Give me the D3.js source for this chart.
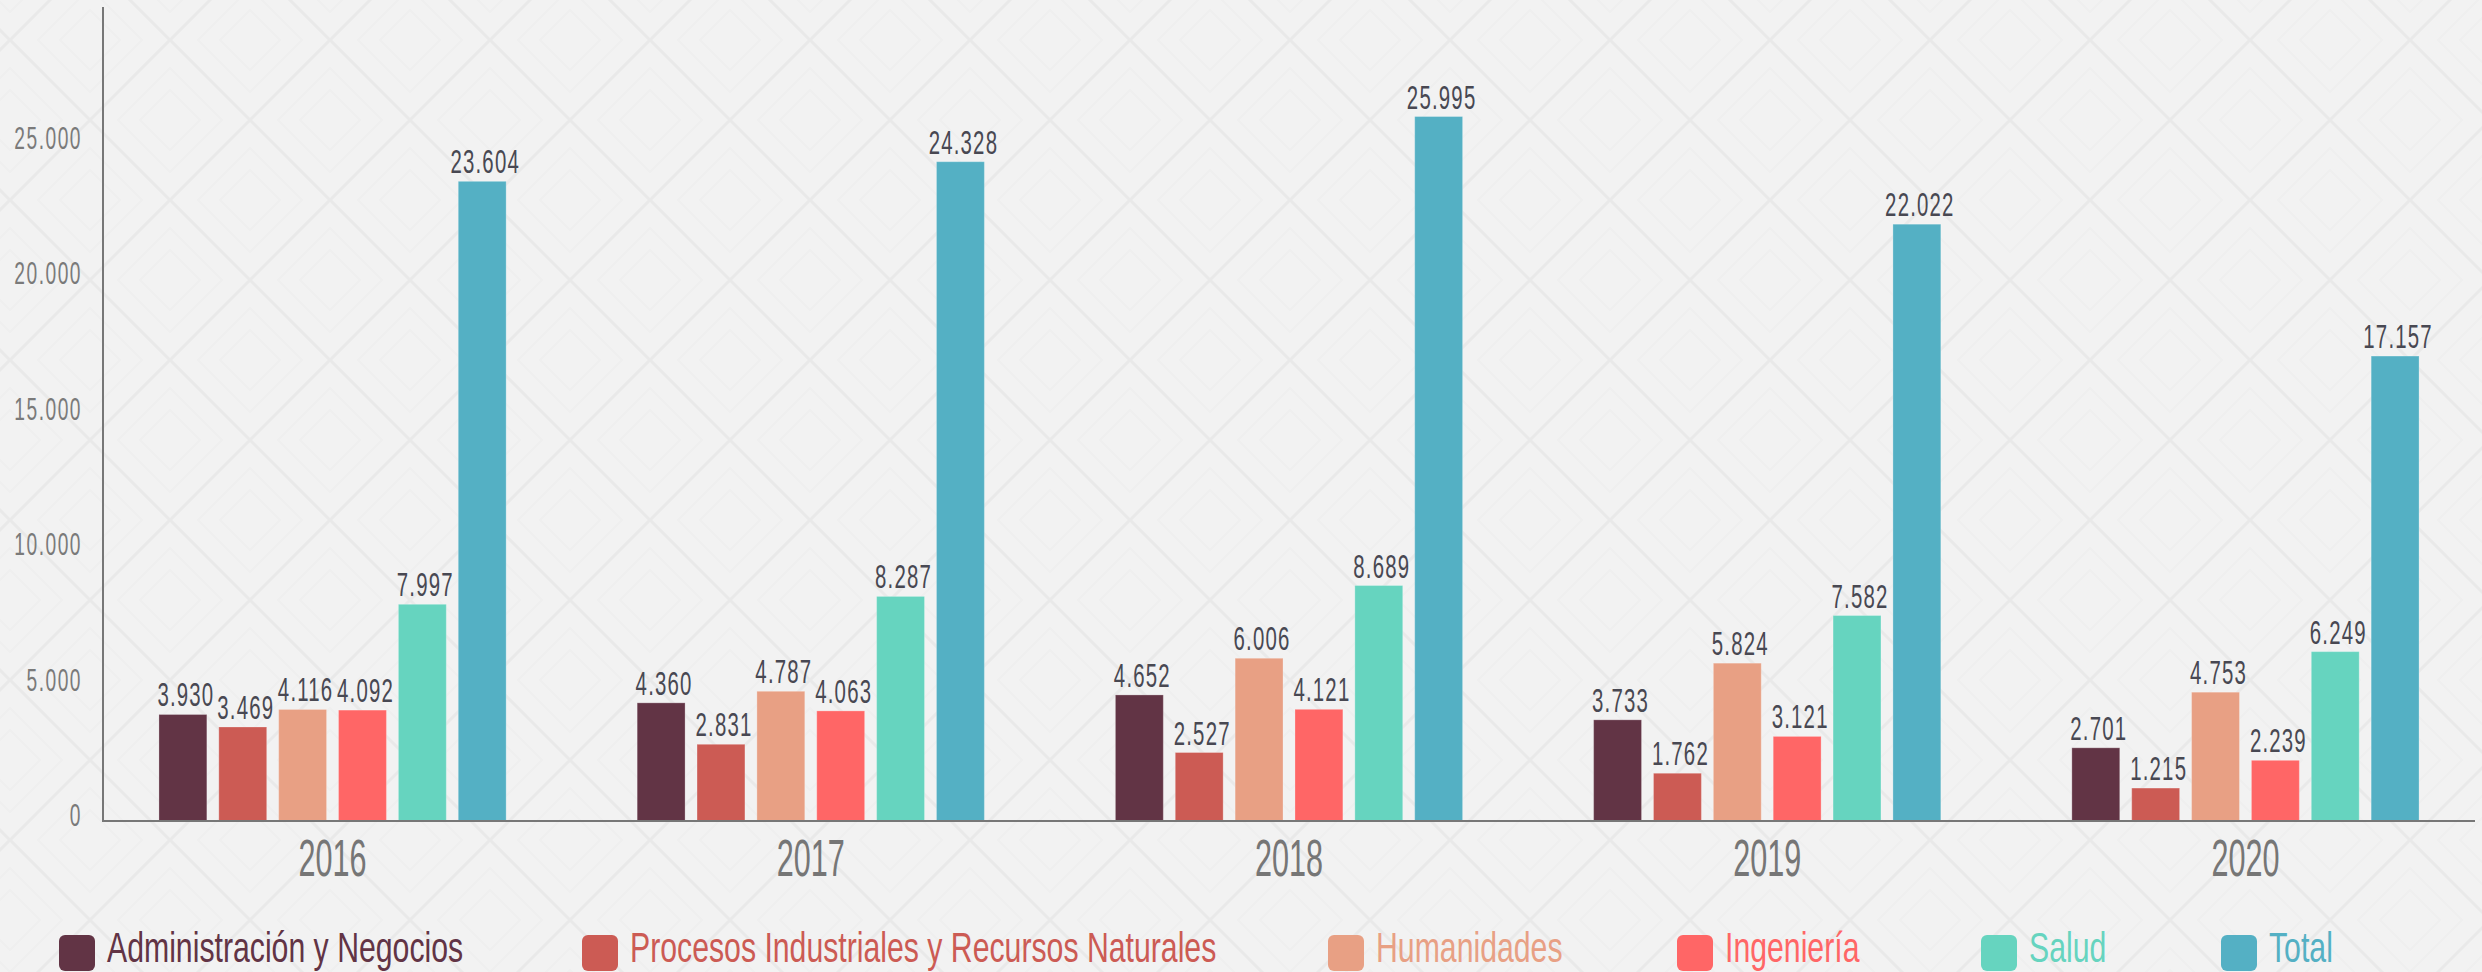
<!DOCTYPE html>
<html>
<head>
<meta charset="utf-8">
<script src="https://cdn.jsdelivr.net/npm/d3@7"></script>
<style>
  html, body { margin: 0; padding: 0; background: #f2f2f2; }
  svg { display: block; }
  text { font-family: "Liberation Sans", Arial, sans-serif; }
</style>
</head>
<body>
<div id="chart"></div>
<script>
// data
var years = ["2016", "2017", "2018", "2019", "2020"];
var seriesNames = ["Administración y Negocios", "Procesos Industriales y Recursos Naturales",
  "Humanidades", "Ingeniería", "Salud", "Total"];
var admin = [3930, 4360, 4652, 3733, 2701];
var procesos = [3469, 2831, 2527, 1762, 1215];
var humanidades = [4116, 4787, 6006, 5824, 4753];
var ingenieria = [4092, 4063, 4121, 3121, 2239];
var salud = [7997, 8287, 8689, 7582, 6249];
var total = [23604, 24328, 25995, 22022, 17157];
var yTicks = [0, 5000, 10000, 15000, 20000, 25000];
var colors = ["#623445", "#cc5b54", "#e8a084", "#ff6666", "#66d4bf", "#54b0c4"];

var svgWidth = 2482;
var svgHeight = 972;

// legend swatch positions (layout)
var legendX = [59, 582, 1328, 1677, 1981, 2221];

var allSeries = [admin, procesos, humanidades, ingenieria, salud, total];

var locale = d3.formatLocale({decimal: ",", thousands: ".", grouping: [3], currency: ["$", ""]});
var fmt = locale.format(",d");

// horizontal squeeze to fake a condensed face
var squeeze = 0.6;
var legendSqueeze = 0.72;

var svg = d3.select("#chart").append("svg")
  .attr("width", svgWidth)
  .attr("height", svgHeight);

// background with faint diamond pattern
var defs = svg.append("defs");
var pat = defs.append("pattern")
  .attr("id", "diamonds")
  .attr("patternUnits", "userSpaceOnUse")
  .attr("x", 10).attr("y", 40)
  .attr("width", 160).attr("height", 160);
pat.append("path")
  .attr("d", "M0,0L160,160M160,0L0,160")
  .attr("stroke", "#e9e9e9").attr("stroke-width", 3).attr("fill", "none");
// small concentric diamonds in the cells
[[80, 0], [0, 80], [160, 80], [80, 160]].forEach(function(c) {
  [52, 30].forEach(function(r) {
    pat.append("path")
      .attr("d", `M${c[0]},${c[1] - r}L${c[0] + r},${c[1]}L${c[0]},${c[1] + r}L${c[0] - r},${c[1]}Z`)
      .attr("stroke", "#efefef").attr("stroke-width", 2).attr("fill", "none");
  });
});

svg.append("rect").attr("width", svgWidth).attr("height", svgHeight).attr("fill", "#f2f2f2");
svg.append("rect").attr("width", svgWidth).attr("height", svgHeight).attr("fill", "url(#diamonds)");

var x0 = d3.scaleBand()
  .domain(years)
  .range([103, 2475])
  .paddingInner(0.274)
  .paddingOuter(0.117);

var x1 = d3.scaleBand()
  .domain(d3.range(allSeries.length))
  .range([0, x0.bandwidth()])
  .paddingInner(0.2);

var y = d3.scaleLinear()
  .domain([0, 30000])
  .range([821, 8]);

// bars
var groups = svg.append("g").selectAll("g")
  .data(years)
  .enter()
  .append("g")
  .attr("transform", d => `translate(${x0(d)},0)`);

groups.selectAll("rect")
  .data((d, i) => allSeries.map((s, j) => ({k: j, v: s[i]})))
  .enter()
  .append("rect")
  .attr("x", d => x1(d.k))
  .attr("y", d => y(d.v))
  .attr("width", x1.bandwidth())
  .attr("height", d => y(0) - y(d.v))
  .attr("fill", d => colors[d.k])
  .attr("stroke", "#ffffff")
  .attr("stroke-opacity", 0.25)
  .attr("stroke-width", 1);

// value labels
groups.selectAll("text")
  .data((d, i) => allSeries.map((s, j) => ({k: j, v: s[i]})))
  .enter()
  .append("text")
  .attr("transform", d => `translate(${x1(d.k) + x1.bandwidth() / 2 + 3},${y(d.v) - 8}) scale(${squeeze},1)`)
  .attr("text-anchor", "middle")
  .attr("font-size", 34)
  .attr("letter-spacing", 2)
  .attr("fill", "#484852")
  .text(d => fmt(d.v));

// y tick labels
svg.append("g").selectAll("text")
  .data(yTicks)
  .enter()
  .append("text")
  .attr("transform", d => `translate(82,${y(d) + 5}) scale(${squeeze},1)`)
  .attr("text-anchor", "end")
  .attr("font-size", 32)
  .attr("letter-spacing", 2.5)
  .attr("fill", "#7a7a7a")
  .text(d => fmt(d));

// year labels
svg.append("g").selectAll("text")
  .data(years)
  .enter()
  .append("text")
  .attr("transform", d => `translate(${x0(d) + x0.bandwidth() / 2},876) scale(${squeeze},1)`)
  .attr("text-anchor", "middle")
  .attr("font-size", 51)
  .attr("fill", "#767676")
  .text(d => d);

// axis lines
svg.append("line")
  .attr("x1", 103).attr("x2", 103)
  .attr("y1", 7).attr("y2", y(0))
  .attr("stroke", "#777").attr("stroke-width", 2);
svg.append("line")
  .attr("x1", 102).attr("x2", 2475)
  .attr("y1", y(0)).attr("y2", y(0))
  .attr("stroke", "#777").attr("stroke-width", 2);

// legend
var legend = svg.append("g");
seriesNames.forEach(function(name, i) {
  var lx = legendX[i];
  legend.append("rect")
    .attr("x", lx).attr("y", 935)
    .attr("width", 36).attr("height", 36)
    .attr("rx", 6)
    .attr("fill", colors[i]);
  legend.append("text")
    .attr("transform", `translate(${lx + 48},962) scale(${legendSqueeze},1)`)
    .attr("font-size", 42)
    .attr("fill", colors[i])
    .text(name);
});
</script>
</body>
</html>
